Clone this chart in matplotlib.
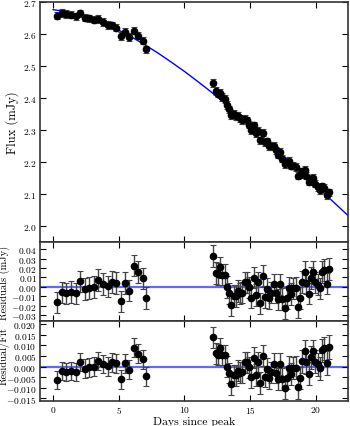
import matplotlib
matplotlib.use("Agg")
import matplotlib.pyplot as plt
import numpy as np

plt.rcParams['font.family'] = 'serif'
plt.rcParams['font.serif'] = ['cmr10']
plt.rcParams['mathtext.fontset'] = 'cm'
plt.rcParams['axes.formatter.use_mathtext'] = True

# data points: days since peak, flux (mJy), residual (mJy)
days = [0.28, 0.66, 1.01, 1.37, 1.75, 2.08, 2.43, 2.76, 3.10, 3.45, 3.80,
        4.14, 4.47, 4.80, 5.13, 5.46, 5.79, 6.12, 6.47, 6.83, 7.08,
        12.20, 12.38, 12.56, 12.73, 12.89, 13.06, 13.24, 13.39, 13.57, 13.75,
        13.92, 14.08, 14.23, 14.41, 14.58, 14.73, 14.91, 15.09, 15.27, 15.42,
        15.59, 15.77, 15.95, 16.10, 16.28, 16.43, 16.61, 16.78, 16.94, 17.11,
        17.29, 17.44, 17.62, 17.77, 17.95, 18.13, 18.28, 18.46, 18.63, 18.78,
        18.96, 19.14, 19.29, 19.47, 19.65, 19.80, 19.97, 20.15, 20.30, 20.48,
        20.66, 20.84, 21.04]
flux = [2.657, 2.666, 2.663, 2.660, 2.655, 2.665, 2.651, 2.649, 2.645, 2.647, 2.637,
        2.628, 2.627, 2.620, 2.594, 2.606, 2.591, 2.610, 2.595, 2.579, 2.552,
        2.447, 2.422, 2.414, 2.416, 2.403, 2.397, 2.378, 2.365, 2.346, 2.350,
        2.344, 2.344, 2.336, 2.330, 2.335, 2.330, 2.317, 2.300, 2.315, 2.290,
        2.298, 2.268, 2.292, 2.263, 2.265, 2.250, 2.249, 2.251, 2.236, 2.223,
        2.231, 2.210, 2.194, 2.199, 2.203, 2.189, 2.189, 2.184, 2.157, 2.160,
        2.171, 2.175, 2.157, 2.139, 2.148, 2.150, 2.132, 2.122, 2.113, 2.124,
        2.119, 2.097, 2.105]
resid = [-0.0166, -0.0060, -0.0070, -0.0057, -0.0070, 0.0057, -0.0025, -0.0010, 0.0000, 0.0070, 0.0030,
         0.0004, 0.0050, 0.0040, -0.0155, 0.0040, -0.0040, 0.0226, 0.0155, 0.0090, -0.0117,
         0.0330, 0.0149, 0.0134, 0.0208, 0.0129, 0.0129, 0.0000, -0.0071, -0.0199, -0.0099,
         -0.0099, -0.0045, -0.0070, -0.0061, 0.0047, 0.0047, -0.0007, -0.0116, 0.0097, -0.0090,
         0.0046, -0.0178, 0.0116, -0.0107, -0.0025, -0.0122, -0.0063, 0.0025, -0.0063, -0.0134,
         0.0025, -0.0133, -0.0224, -0.0119, -0.0011, -0.0079, -0.0018, -0.0011, -0.0213, -0.0117,
         0.0054, 0.0158, 0.0041, -0.0073, 0.0092, 0.0156, 0.0047, 0.0023, -0.0017, 0.0160,
         0.0179, 0.0034, 0.0192]
flux_err = 0.0115

# fitted curve
fit_days = [0, 1, 2, 3, 4, 5, 6, 7, 8, 9, 10, 11, 12, 13, 14, 15, 16, 17, 18, 19, 20, 21, 22, 23]
fit_flux = [2.676, 2.670, 2.660, 2.647, 2.631, 2.612, 2.590, 2.566, 2.540, 2.512, 2.483, 2.452,
            2.420, 2.386, 2.351, 2.315, 2.278, 2.240, 2.202, 2.164, 2.126, 2.088, 2.050, 2.012]

days = np.array(days)
flux = np.array(flux)
resid = np.array(resid)
model = flux - resid
ratio = resid / model
ratio_err = flux_err / model

W, H = 350, 427
fig = plt.figure(figsize=(W / 100, H / 100), dpi=100)
left, width = 40 / W, 308 / W
ax1 = fig.add_axes([left, 1 - 243 / H, width, 240 / H])
ax2 = fig.add_axes([left, 1 - 322 / H, width, 79 / H])
ax3 = fig.add_axes([left, 1 - 402 / H, width, 80 / H])

ebkw = dict(fmt='o', color='black', ms=4.5, ecolor='#444444', elinewidth=1,
            capsize=2, capthick=0.8)

ax1.plot(fit_days, fit_flux, color='blue', lw=1, zorder=1)
ax1.errorbar(days, flux, yerr=flux_err, **ebkw)
ax1.set_ylim(1.95, 2.7)
ax1.set_yticks(np.arange(2.0, 2.71, 0.1))
ax1.set_ylabel('Flux (mJy)', fontsize=9)
ax1.yaxis.set_label_coords(-0.068, 0.5)

ax2.axhline(0, color='blue', lw=1.6, alpha=0.6, zorder=1)
ax2.errorbar(days, resid, yerr=flux_err, **ebkw)
ax2.set_ylim(-0.0365, 0.0478)
ax2.set_yticks(np.arange(-0.03, 0.041, 0.01))
ax2.set_ylabel('Residuals (mJy)', fontsize=7.5)
ax2.yaxis.set_label_coords(-0.097, 0.5)

ax3.axhline(0, color='blue', lw=1.6, alpha=0.6, zorder=1)
ax3.errorbar(days, ratio, yerr=ratio_err, **ebkw)
ax3.set_ylim(-0.0162, 0.0214)
ax3.set_yticks(np.arange(-0.015, 0.0201, 0.005))
ax3.set_ylabel('Residual/Fit', fontsize=7.5)
ax3.yaxis.set_label_coords(-0.099, 0.57)
ax3.set_xlabel('Days since peak', fontsize=8.5, labelpad=0.5)

for ax in (ax1, ax2, ax3):
    ax.set_xlim(-1, 22.45)
    ax.set_xticks([0, 5, 10, 15, 20])
    ax.tick_params(direction='in', top=True, right=True, labelsize=6.8, length=4, pad=2.5)
    for s in ax.spines.values():
        s.set_color('#333333')
        s.set_linewidth(1.2)
ax1.tick_params(labelbottom=False)
ax2.tick_params(labelbottom=False)

fig.savefig('out.png', dpi=100)
